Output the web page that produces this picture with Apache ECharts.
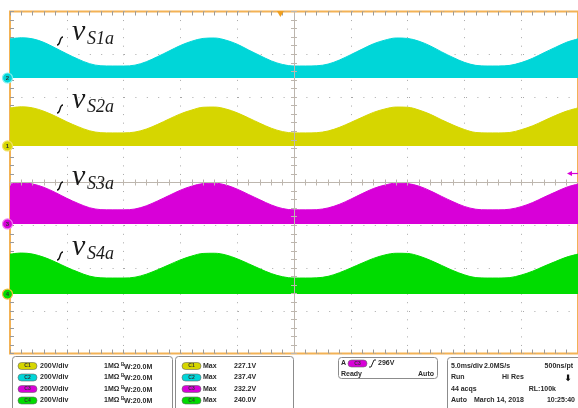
<!DOCTYPE html>
<html>
<head>
<meta charset="utf-8">
<script src="https://cdn.jsdelivr.net/npm/echarts@6/dist/echarts.min.js"></script>
<style>
  html, body { margin: 0; padding: 0; background: #ffffff; }
  #scope { width: 578px; height: 408px; }
</style>
</head>
<body>
<div id="scope"></div>
<script>
// Time base: 5 ms/div, 10 divisions, centred on the trigger point (ms)
const timeMs = [-25,-24,-23,-22,-21,-20,-19,-18,-17,-16,-15,-14,-13,-12,-11,-10,-9,-8,-7,-6,-5,-4,-3,-2,-1,
  0,1,2,3,4,5,6,7,8,9,10,11,12,13,14,15,16,17,18,19,20,21,22,23,24,25];

// Upper envelope of each switch voltage above its own ground (V)
const vS1a = [183,188,183,166,140,113,88,67,57,56,56,60,76,100,126,152,172,185,187,177,158,131,105,80,63,
  56,56,57,65,84,109,135,160,177,187,185,172,150,122,96,73,59,56,56,59,72,92,118,143,167,183];
const vS2a = [178,183,178,162,139,113,90,71,62,61,61,65,79,101,126,150,168,181,182,173,155,131,106,83,67,
  61,61,62,70,87,110,134,157,173,182,181,168,148,122,98,77,63,61,61,63,76,94,118,142,163,178];
const vS3a = [187,192,187,171,147,120,96,76,67,66,66,70,85,108,133,158,177,189,191,182,163,138,113,89,72,
  66,66,67,75,92,116,142,166,182,191,189,177,155,129,104,82,69,66,66,69,81,100,125,149,172,187];
const vS4a = [187,192,187,172,150,125,103,84,76,75,75,79,93,114,137,160,178,190,191,183,165,142,118,96,81,
  75,75,76,83,100,122,145,167,183,191,190,178,158,134,110,90,77,75,75,77,89,107,130,152,173,187];

// Screen position of each channel's ground marker (V at 200 V/div)
const groundCh2 = 489;   // vS1a
const groundCh1 = 171;   // vS2a
const groundCh3 = -194;  // vS3a
const groundCh4 = -522;  // vS4a

// Readout panel texts
const chScale = ['200V/div', '200V/div', '200V/div', '200V/div'];
const chMax = ['227.1V', '237.4V', '232.2V', '240.0V'];
const chNames = ['C1', 'C2', 'C3', 'C4'];

const COL = { c1: '#d6d600', c2: '#00d6d8', c3: '#d800d8', c4: '#00dc00' };
const ORANGE = '#f3b255';
const GRID_DOT = '#a8a8a8';
const CENTER = '#bdb6ae';
const TIME_AXIS = 4; // hidden category axis carrying the samples

function channelSeries(key, ground, values, color) {
  return [
    {
      type: 'line', name: key + '_gnd', stack: key, stackStrategy: 'all', xAxisIndex: TIME_AXIS,
      data: timeMs.map(() => ground), symbol: 'none', silent: true,
      lineStyle: { width: 0, opacity: 0 }, z: 3
    },
    {
      type: 'line', name: key, stack: key, stackStrategy: 'all', xAxisIndex: TIME_AXIS,
      data: values.slice(), symbol: 'none', smooth: 0.35,
      lineStyle: { color: color, width: 1 },
      areaStyle: { color: color, opacity: 1 }, z: 3
    }
  ];
}

function borderAxis(pos) {
  return {
    type: 'value', min: -25, max: 25, interval: 5, position: pos,
    axisLine: { show: false, onZero: false },
    axisTick: { show: true, inside: true, length: 4, lineStyle: { color: '#9a9a9a' } },
    minorTick: { show: true, splitNumber: 5, length: 4, lineStyle: { color: '#9a9a9a' } },
    axisLabel: { show: false }, splitLine: { show: false }
  };
}
function centerAxis(pos, range, interval) {
  return {
    type: 'value', min: range[0], max: range[1], interval: interval, position: pos,
    axisLine: { show: true, onZero: true, onZeroAxisIndex: 0, lineStyle: { color: CENTER, width: 1 } },
    axisTick: { show: true, inside: false, length: 3, lineStyle: { color: CENTER } },
    minorTick: { show: true, splitNumber: 5, length: 3, lineStyle: { color: CENTER } },
    axisLabel: { show: false }, splitLine: { show: false }, z: 4
  };
}

const xBottom = borderAxis('bottom');
xBottom.splitLine = { show: true, lineStyle: { color: GRID_DOT, width: 1, type: [1, 7.55] } };
const xTop = borderAxis('top');
const xTime = {
  type: 'category', data: timeMs, boundaryGap: false, position: 'bottom', show: false,
  axisLine: { onZero: false }
};

const yLeft = {
  type: 'value', min: -800, max: 800, interval: 200, position: 'left',
  axisLine: { show: false, onZero: false },
  axisTick: { show: true, inside: true, length: 4, lineStyle: { color: '#9a9a9a' } },
  minorTick: { show: true, splitNumber: 5, length: 4, lineStyle: { color: '#9a9a9a' } },
  axisLabel: { show: false },
  splitLine: { show: true, lineStyle: { color: GRID_DOT, width: 1, type: [1, 10.4] } }
};

const option = {
  animation: false,
  backgroundColor: '#ffffff',
  grid: { left: 10, top: 11.5, width: 570, height: 342, show: true, borderColor: ORANGE, borderWidth: 2, backgroundColor: '#ffffff', z: 0 },
  xAxis: [xBottom, xTop, centerAxis('bottom', [-25, 25], 5), centerAxis('top', [-25, 25], 5), xTime],
  yAxis: [yLeft, centerAxis('left', [-800, 800], 200), centerAxis('right', [-800, 800], 200)],
  series: [].concat(
    channelSeries('vS1a', groundCh2, vS1a, COL.c2),
    channelSeries('vS2a', groundCh1, vS2a, COL.c1),
    channelSeries('vS3a', groundCh3, vS3a, COL.c3),
    channelSeries('vS4a', groundCh4, vS4a, COL.c4)
  )
};

const chart = echarts.init(document.getElementById('scope'), null, { renderer: 'canvas' });
chart.setOption(option);

// ---- overlays: labels, channel markers, readout panel ----
const g = [];
const yPx = v => chart.convertToPixel({ yAxisIndex: 0 }, v);
const xPx = t => chart.convertToPixel({ xAxisIndex: 0 }, t);

// trace labels v_S?a with leader squiggle
const labels = [
  { sub: 'S1a', base: 42 },
  { sub: 'S2a', base: 110 },
  { sub: 'S3a', base: 187 },
  { sub: 'S4a', base: 257 }
];
labels.forEach(l => {
  g.push({ type: 'bezierCurve', z: 20, shape: { x1: 57, y1: l.base + 3, x2: 63, y2: l.base - 5, cpx1: 61, cpy1: l.base + 3, cpx2: 59, cpy2: l.base - 5 },
    style: { stroke: '#111', lineWidth: 1.4, fill: null } });
  g.push({ type: 'text', z: 20, x: 72, y: l.base - 10, style: { text: 'v', font: 'italic 30px "Liberation Serif"', fill: '#1a1a1a', verticalAlign: 'middle', align: 'left' } });
  g.push({ type: 'text', z: 20, x: 87, y: l.base - 3, style: { text: l.sub, font: 'italic 18px "Liberation Serif"', fill: '#1a1a1a', verticalAlign: 'middle', align: 'left' } });
});

// channel ground markers on the left edge
[[groundCh1, '1', COL.c1, '#f0e060'], [groundCh2, '2', COL.c2, '#7ff0f0'], [groundCh3, '3', COL.c3, '#f080f0'], [groundCh4, '4', COL.c4, '#f0c040']]
  .forEach(m => {
    const y = yPx(m[0]);
    g.push({ type: 'circle', z: 30, shape: { cx: 7.5, cy: y, r: 5 }, style: { fill: m[2], stroke: m[3], lineWidth: 1.2 } });
    g.push({ type: 'text', z: 31, x: 7.5, y: y, style: { text: m[1], font: 'bold 6px "Liberation Sans"', fill: '#333', align: 'center', verticalAlign: 'middle' } });
  });

// trigger position (top) and trigger level (right)
const trigX = xPx(-1.2);
g.push({ type: 'polygon', z: 30, shape: { points: [[trigX - 3.5, 11], [trigX + 3.5, 11], [trigX, 17]] }, style: { fill: '#f0a020' } });
g.push({ type: 'polygon', z: 30, shape: { points: [[567, 173.5], [572, 171], [572, 176]] }, style: { fill: COL.c3 } });
g.push({ type: 'line', z: 30, shape: { x1: 571, y1: 173.5, x2: 578, y2: 173.5 }, style: { stroke: COL.c3, lineWidth: 1.2 } });

// readout panel
const boxStyle = { fill: '#ffffff', stroke: '#8c8c8c', lineWidth: 1 };
g.push({ type: 'rect', z: 10, shape: { x: 12.5, y: 356.5, width: 160, height: 60, r: 3 }, style: boxStyle });
g.push({ type: 'rect', z: 10, shape: { x: 175.5, y: 356.5, width: 118, height: 60, r: 3 }, style: boxStyle });
g.push({ type: 'rect', z: 10, shape: { x: 338.5, y: 357.5, width: 99, height: 21, r: 3 }, style: boxStyle });
g.push({ type: 'rect', z: 10, shape: { x: 447.5, y: 357.5, width: 140, height: 60, r: 3 }, style: boxStyle });

const F = 'bold 7px "Liberation Sans"';
const TXT = '#2a2a2a';
function txt(x, y, s, align) {
  g.push({ type: 'text', z: 12, x: x, y: y, style: { text: s, font: F, fill: TXT, align: align || 'left', verticalAlign: 'middle' } });
}
function pill(x, y, color, label) {
  g.push({ type: 'rect', z: 12, shape: { x: x, y: y - 3.5, width: 19, height: 7, r: 3.5 }, style: { fill: color, stroke: '#666', lineWidth: 0.6 } });
  g.push({ type: 'text', z: 13, x: x + 9.5, y: y, style: { text: label, font: 'bold 5px "Liberation Sans"', fill: '#333', align: 'center', verticalAlign: 'middle' } });
}
const pillCols = [COL.c1, COL.c2, COL.c3, COL.c4];
const rowsY = [366, 377.5, 389, 400.5];
rowsY.forEach((y, i) => {
  pill(18, y, pillCols[i], chNames[i]);
  txt(40, y, chScale[i]);
  txt(104, y, '1MΩ');
  g.push({ type: 'text', z: 12, x: 121, y: y - 1.5, style: { text: 'B', font: 'bold 4.5px "Liberation Sans"', fill: TXT, verticalAlign: 'middle' } });
  txt(124, y + 0.8, 'W:20.0M');
  pill(182, y, pillCols[i], chNames[i]);
  txt(203, y, 'Max');
  txt(234, y, chMax[i]);
});
txt(341, 363.5, 'A');
pill(348, 363.5, COL.c3, 'C3');
g.push({ type: 'polyline', z: 12, shape: { points: [[369, 367], [371, 367], [374, 360], [376, 360]] }, style: { stroke: '#222', lineWidth: 1, fill: null } });
txt(378, 363.5, '296V');
txt(341, 374, 'Ready');
txt(434, 374, 'Auto', 'right');

txt(451, rowsY[0], '5.0ms/div');
txt(484, rowsY[0], '2.0MS/s');
txt(573, rowsY[0], '500ns/pt', 'right');
txt(451, rowsY[1], 'Run');
txt(502, rowsY[1], 'Hi Res');
g.push({ type: 'text', z: 12, x: 568, y: rowsY[1] + 1, style: { text: '⬇', font: 'bold 9px "DejaVu Sans"', fill: '#111', align: 'center', verticalAlign: 'middle' } });
txt(451, rowsY[2], '44 acqs');
txt(556, rowsY[2], 'RL:100k', 'right');
txt(451, rowsY[3], 'Auto');
txt(474, rowsY[3], 'March 14, 2018');
txt(575, rowsY[3], '10:25:40', 'right');

chart.setOption({ graphic: { elements: g } });
</script>
</body>
</html>
